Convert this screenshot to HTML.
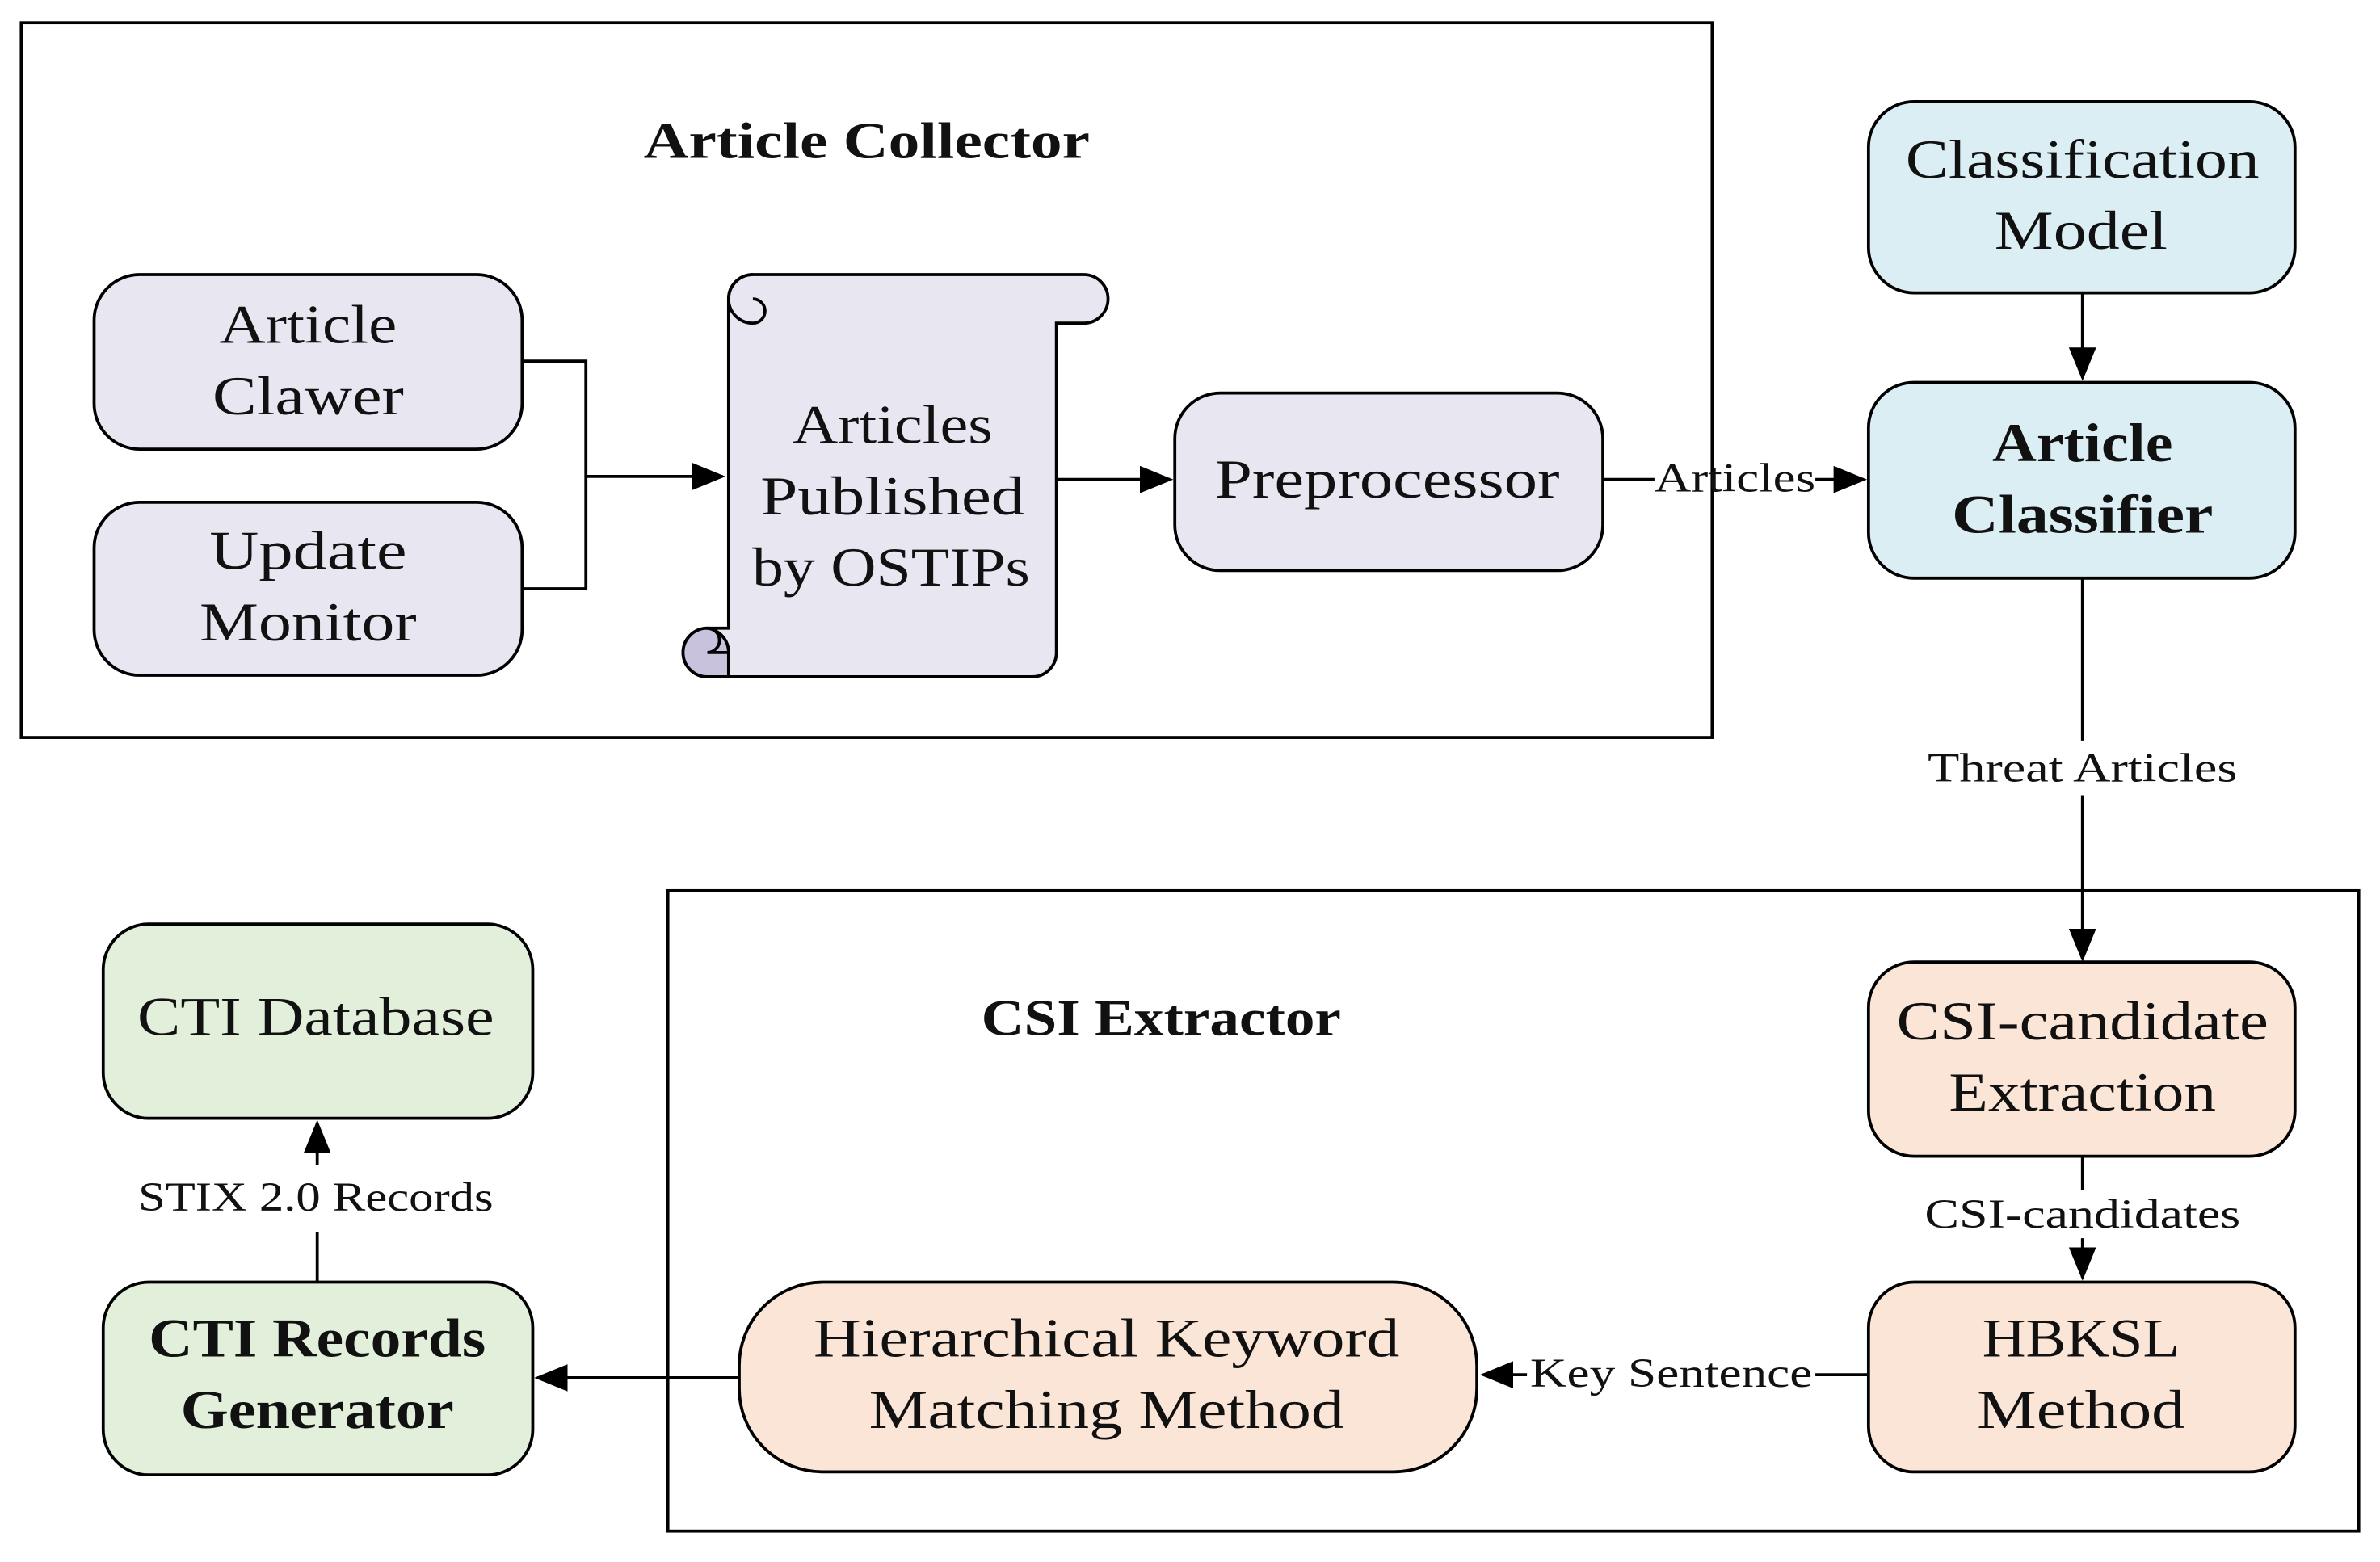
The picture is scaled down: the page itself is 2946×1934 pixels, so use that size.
<!DOCTYPE html>
<html><head><meta charset="utf-8"><style>html,body{margin:0;padding:0;background:#fff}svg{display:block}</style></head>
<body>
<svg width="2946" height="1934" viewBox="0 0 1568 1029.4" preserveAspectRatio="none" xmlns="http://www.w3.org/2000/svg" font-family="'Liberation Serif', serif">
<defs>
<marker id="b" markerWidth="22" markerHeight="18" refX="20" refY="9" orient="auto" markerUnits="userSpaceOnUse"><path d="M0,0 L22,9 L0,18 z" fill="#000"/></marker></defs>
<g fill="none" stroke="#000" stroke-width="2">
<rect x="14" y="15" width="1114" height="471"/>
<rect x="440" y="587" width="1114" height="422"/>
</g>
<g stroke="#000" stroke-width="2">
<rect x="62" y="181" width="282" height="115" rx="30" fill="#e8e6f0"/>
<rect x="62" y="331" width="282" height="114" rx="30" fill="#e8e6f0"/>
<rect x="774" y="259" width="282" height="117" rx="30" fill="#e8e6f0"/>
<rect x="1231" y="67" width="281" height="126" rx="30" fill="#dbeef4"/>
<rect x="1231" y="252" width="281" height="129" rx="30" fill="#dbeef4"/>
<rect x="1231" y="634" width="281" height="128" rx="30" fill="#fbe5d6"/>
<rect x="1231" y="845" width="281" height="125" rx="30" fill="#fbe5d6"/>
<rect x="487" y="845" width="486" height="125" rx="55" fill="#fbe5d6"/>
<rect x="68" y="845" width="283" height="127" rx="30" fill="#e2efda"/>
<rect x="68" y="609" width="283" height="128" rx="30" fill="#e2efda"/>
<path d="M480,197 A16,16 0 0 1 496,181 L714,181 A16,16 0 0 1 714,213 L696,213 L696,430 A16,16 0 0 1 680,446 L466,446 A16,16 0 0 1 466,414 L480,414 Z" fill="#e8e6f0"/>
<path d="M496,181 A16,16 0 0 0 496,213 A8,8 0 0 0 496,197" fill="none"/>
<path d="M466,414 A16,16 0 0 1 480,430 L480,446 L466,446 A16,16 0 0 1 466,414 Z" fill="#c9c2dc"/>
<path d="M466,414 A8,8 0 0 1 466,430 L480,430" fill="none"/>
</g>
<g fill="none" stroke="#000" stroke-width="2">
<path d="M344,238 H386 V388 H344"/>
<path d="M386,314 H476" marker-end="url(#b)"/>
<path d="M696,316 H771" marker-end="url(#b)"/>
<path d="M1056,316 H1090 M1196,316 H1228" marker-end="url(#b)"/>
<path d="M1372,193 V249" marker-end="url(#b)"/>
<path d="M1372,381 V488 M1372,524 V632" marker-end="url(#b)"/>
<path d="M1372,762 V784 M1372,816 V842" marker-end="url(#b)"/>
<path d="M1231,906 H1196 M1006,906 H977" marker-end="url(#b)"/>
<path d="M487,908 H354" marker-end="url(#b)"/>
<path d="M209,845 V812 M209,768 V740" marker-end="url(#b)"/>
</g>
<g font-size="36" text-anchor="middle" fill="#111" lengthAdjust="spacingAndGlyphs">
<text x="571" y="104" font-weight="bold" font-size="34" textLength="294" lengthAdjust="spacingAndGlyphs">Article Collector</text>
<text x="765" y="682" font-weight="bold" font-size="34" textLength="237" lengthAdjust="spacingAndGlyphs">CSI Extractor</text>
<text x="203" y="226" textLength="117" lengthAdjust="spacingAndGlyphs">Article</text><text x="203" y="273" textLength="126" lengthAdjust="spacingAndGlyphs">Clawer</text>
<text x="203" y="375" textLength="130" lengthAdjust="spacingAndGlyphs">Update</text><text x="203" y="422" textLength="143" lengthAdjust="spacingAndGlyphs">Monitor</text>
<text x="588" y="292" textLength="132" lengthAdjust="spacingAndGlyphs">Articles</text><text x="588" y="339" textLength="174" lengthAdjust="spacingAndGlyphs">Published</text><text x="587" y="386" textLength="183" lengthAdjust="spacingAndGlyphs">by OSTIPs</text>
<text x="914" y="328" textLength="227" lengthAdjust="spacingAndGlyphs">Preprocessor</text>
<text x="1372" y="117" textLength="233" lengthAdjust="spacingAndGlyphs">Classification</text><text x="1371" y="164" textLength="114" lengthAdjust="spacingAndGlyphs">Model</text>
<text x="1372" y="304" font-weight="bold" textLength="119" lengthAdjust="spacingAndGlyphs">Article</text><text x="1372" y="351" font-weight="bold" textLength="172" lengthAdjust="spacingAndGlyphs">Classifier</text>
<text x="1372" y="685" textLength="245" lengthAdjust="spacingAndGlyphs">CSI-candidate</text><text x="1372" y="732" textLength="176" lengthAdjust="spacingAndGlyphs">Extraction</text>
<text x="1371" y="894" textLength="130" lengthAdjust="spacingAndGlyphs">HBKSL</text><text x="1371" y="941" textLength="137" lengthAdjust="spacingAndGlyphs">Method</text>
<text x="729" y="894" textLength="386" lengthAdjust="spacingAndGlyphs">Hierarchical Keyword</text><text x="729" y="941" textLength="313" lengthAdjust="spacingAndGlyphs">Matching Method</text>
<text x="209" y="894" font-weight="bold" textLength="222" lengthAdjust="spacingAndGlyphs">CTI Records</text><text x="209" y="941" font-weight="bold" textLength="180" lengthAdjust="spacingAndGlyphs">Generator</text>
<text x="208" y="682" textLength="235" lengthAdjust="spacingAndGlyphs">CTI Database</text>
</g>
<g font-size="27" text-anchor="middle" fill="#111">
<text x="1143" y="324" textLength="106" lengthAdjust="spacingAndGlyphs">Articles</text>
<text x="1372" y="515" textLength="204" lengthAdjust="spacingAndGlyphs">Threat Articles</text>
<text x="1372" y="809" textLength="208" lengthAdjust="spacingAndGlyphs">CSI-candidates</text>
<text x="1101" y="914" textLength="186" lengthAdjust="spacingAndGlyphs">Key Sentence</text>
<text x="208" y="798" textLength="234" lengthAdjust="spacingAndGlyphs">STIX 2.0 Records</text>
</g>
</svg>
</body></html>
